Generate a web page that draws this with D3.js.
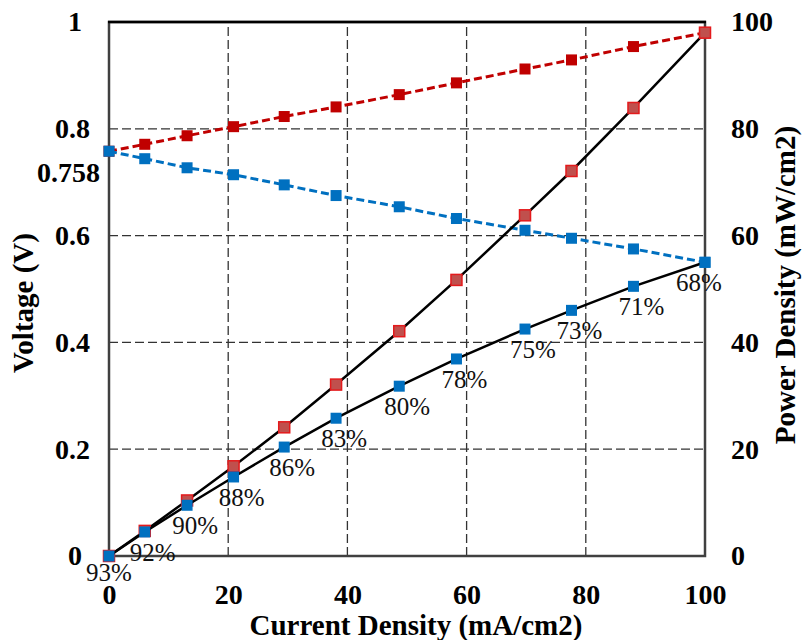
<!DOCTYPE html>
<html>
<head>
<meta charset="utf-8">
<script src="https://cdnjs.cloudflare.com/ajax/libs/d3/7.8.5/d3.min.js"></script>
<style>
  body { margin: 0; background: #fff; }
  svg { display: block; }
  text { font-family: "Liberation Serif", "Times New Roman", serif; }
</style>
</head>
<body>
<svg></svg>
<script>
const currentDensity = [0, 6, 13.1, 20.9, 29.4, 38.1, 48.7, 58.3, 69.8, 77.6, 88, 100];
const voltageRed  = [0.758, 0.771, 0.787, 0.804, 0.823, 0.841, 0.864, 0.886, 0.912, 0.929, 0.954, 0.980];
const voltageBlue = [0.758, 0.744, 0.727, 0.714, 0.695, 0.675, 0.654, 0.632, 0.610, 0.595, 0.575, 0.550];
const powerRed  = [0, 4.7, 10.4, 16.8, 24.1, 32.1, 42.1, 51.7, 63.8, 72.1, 83.9, 98.0];
const powerBlue = [0, 4.5, 9.5, 14.8, 20.4, 25.8, 31.8, 36.9, 42.5, 46.0, 50.5, 55.0];
const efficiency = ["93%", "92%", "90%", "88%", "86%", "83%", "80%", "78%", "75%", "73%", "71%", "68%"];
const xTicks = [0, 20, 40, 60, 80, 100];
const voltTicks = [0, 0.2, 0.4, 0.6, 0.8, 1];
const powerTicks = [0, 20, 40, 60, 80, 100];
const openCircuit = 0.758;

const width = 805;
const height = 640;
const margin = { top: 22, left: 109, bottom: 84, right: 100 };
const serif = "Liberation Serif";

let svg = d3.select("svg")
            .attr("width", width)
            .attr("height", height);

//setup scales
let xScale = d3.scaleLinear()
               .domain([0, 100])
               .range([margin.left, width - margin.right]);
let yVolt = d3.scaleLinear()
              .domain([0, 1])
              .range([height - margin.bottom, margin.top]);
let yPower = d3.scaleLinear()
               .domain([0, 100])
               .range([height - margin.bottom, margin.top]);

//grid
let grid = svg.append("g")
              .attr("stroke", "#333")
              .attr("stroke-width", 1.3)
              .attr("stroke-dasharray", "9,4");
grid.selectAll(".vgrid")
  .data(xTicks.slice(1, -1))
  .enter()
  .append("line")
    .attr("x1", d => xScale(d))
    .attr("x2", d => xScale(d))
    .attr("y1", yVolt(0))
    .attr("y2", yVolt(1));
grid.selectAll(".hgrid")
  .data(voltTicks.slice(1, -1))
  .enter()
  .append("line")
    .attr("x1", xScale(0))
    .attr("x2", xScale(100))
    .attr("y1", d => yVolt(d))
    .attr("y2", d => yVolt(d));

//frame
svg.append("rect")
  .attr("x", xScale(0))
  .attr("y", yVolt(1))
  .attr("width", xScale(100) - xScale(0))
  .attr("height", yVolt(0) - yVolt(1))
  .attr("fill", "none")
  .attr("stroke", "#404040")
  .attr("stroke-width", 2.5);
svg.append("line")
  .attr("x1", xScale(0) - 1)
  .attr("x2", xScale(100) + 1)
  .attr("y1", yVolt(1))
  .attr("y2", yVolt(1))
  .attr("stroke", "#000")
  .attr("stroke-width", 2.5);

//axes
let xAxis = d3.axisBottom(xScale).tickValues(xTicks).tickSize(0).tickPadding(28);
let yAxis = d3.axisLeft(yVolt).tickValues(voltTicks).tickSize(0).tickPadding(19).tickFormat(d3.format(""));
let y2Axis = d3.axisRight(yPower).tickValues(powerTicks).tickSize(0).tickPadding(26);

[[xAxis, `translate(0,${yVolt(0)})`], [yAxis, `translate(${xScale(0)},0)`], [y2Axis, `translate(${xScale(100)},0)`]]
  .forEach(([axis, tr]) => {
    let g = svg.append("g").attr("transform", tr).call(axis);
    g.select(".domain").remove();
    g.attr("font-family", null).attr("font-size", null);
    let labels = g.selectAll("text")
      .style("font-family", serif)
      .style("font-size", "28px")
      .style("font-weight", "bold")
      .attr("fill", "#000");
    // whole-number voltage labels sit a bit further left in the original
    if (axis === yAxis) labels.filter(d => d === 0 || d === 1).attr("dx", -8);
  });

svg.append("text")
  .attr("x", 100)
  .attr("y", yVolt(openCircuit) + 22)
  .attr("dy", "0.32em")
  .attr("text-anchor", "end")
  .style("font-family", serif)
  .style("font-size", "28px")
  .style("font-weight", "bold")
  .text(openCircuit);

//axis titles
svg.append("text")
  .attr("transform", `translate(33,303) rotate(-90)`)
  .attr("text-anchor", "middle")
  .style("font-family", serif)
  .style("font-size", "29px")
  .style("font-weight", "bold")
  .text("Voltage (V)");
svg.append("text")
  .attr("transform", `translate(795,285) rotate(-90)`)
  .attr("text-anchor", "middle")
  .style("font-family", serif)
  .style("font-size", "29px")
  .style("font-weight", "bold")
  .text("Power Density (mW/cm2)");
svg.append("text")
  .attr("x", 416)
  .attr("y", 635)
  .attr("text-anchor", "middle")
  .style("font-family", serif)
  .style("font-size", "29px")
  .style("font-weight", "bold")
  .text("Current Density (mA/cm2)");

//series
const series = [
  { values: voltageRed,  y: yVolt,  line: "#c00000", dash: "8,4", lw: 3,   fill: "#c00000", stroke: "none" },
  { values: voltageBlue, y: yVolt,  line: "#0070c0", dash: "8,4", lw: 3,   fill: "#0070c0", stroke: "none" },
  { values: powerRed,    y: yPower, line: "#000",    dash: null,  lw: 2.5, fill: "#c0504d", stroke: "#e41a1c" },
  { values: powerBlue,   y: yPower, line: "#000",    dash: null,  lw: 2.5, fill: "#0070c0", stroke: "none" }
];
const size = 11;

series.forEach(s => {
  let pts = currentDensity.map((c, i) => [c, s.values[i]]);
  svg.append("path")
    .datum(pts)
    .attr("fill", "none")
    .attr("stroke", s.line)
    .attr("stroke-width", s.lw)
    .attr("stroke-dasharray", s.dash)
    .attr("d", d3.line().x(d => xScale(d[0])).y(d => s.y(d[1])));
  svg.append("g")
    .selectAll("rect")
    .data(pts)
    .enter()
    .append("rect")
      .attr("x", d => xScale(d[0]) - size / 2)
      .attr("y", d => s.y(d[1]) - size / 2)
      .attr("width", size)
      .attr("height", size)
      .attr("fill", s.fill)
      .attr("stroke", s.stroke)
      .attr("stroke-width", 1.5);
});

//efficiency labels
svg.append("g")
  .selectAll("text")
  .data(efficiency)
  .enter()
  .append("text")
    .attr("x", (d, i) => xScale(currentDensity[i]) + (i === 0 ? 0 : i === efficiency.length - 1 ? -6 : 8))
    .attr("y", (d, i) => yPower(powerBlue[i]) + (i === 0 ? 25 : 29))
    .attr("text-anchor", "middle")
    .style("font-family", serif)
    .style("font-size", "25px")
    .attr("fill", "#111")
    .text(d => d);
</script>
</body>
</html>
